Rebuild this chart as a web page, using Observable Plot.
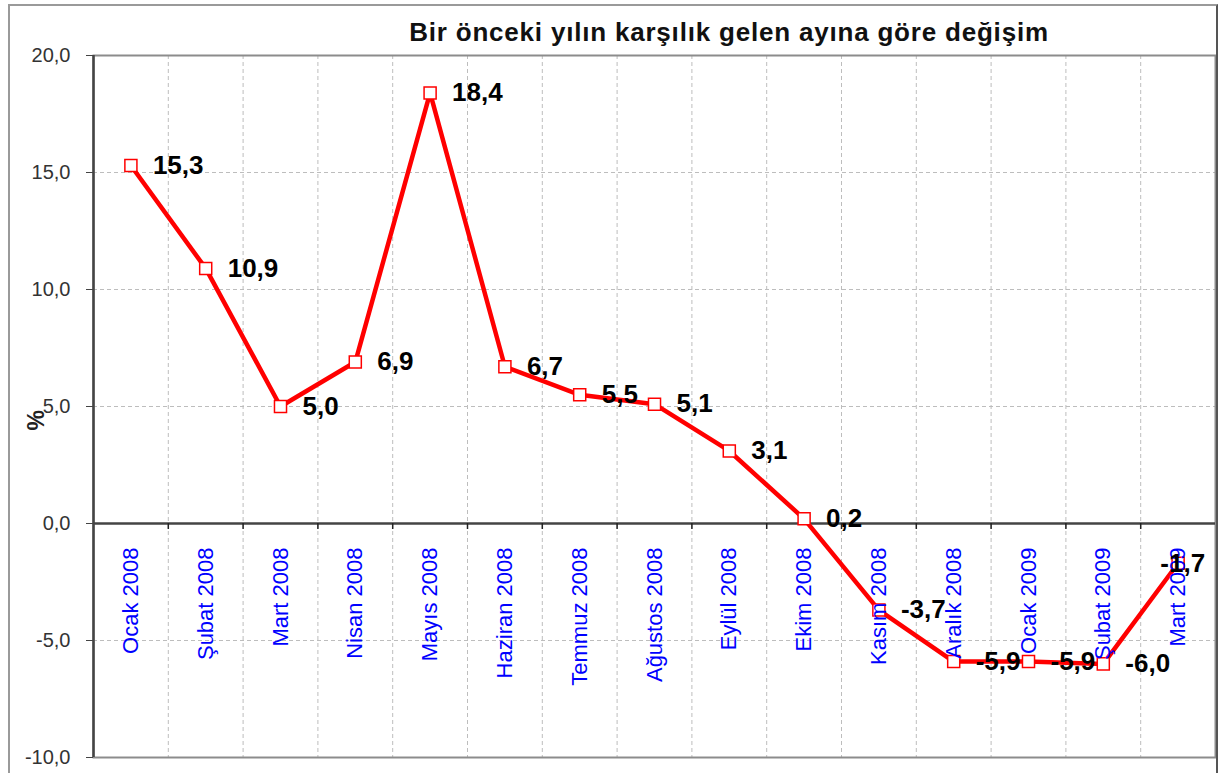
<!DOCTYPE html>
<html>
<head>
<meta charset="utf-8">
<script src="https://cdn.jsdelivr.net/npm/d3@7"></script>
<script src="https://cdn.jsdelivr.net/npm/@observablehq/plot@0.6"></script>
<style>
  html, body { margin: 0; padding: 0; background: #ffffff; }
  #wrap { position: relative; width: 1218px; height: 773px; overflow: hidden; font-family: "Liberation Sans", Arial, sans-serif; }
  #frame { position: absolute; left: 8px; top: 4px; width: 1206px; height: 800px; border: 2px solid #9a9a9a; border-right-color: #555; box-sizing: content-box; pointer-events: none; }
  #title { position: absolute; left: 229px; width: 1000px; top: 17px; text-align: center; font-size: 26px; letter-spacing: 0.8px; font-weight: bold; color: #111; line-height: 30px; }
  #chart { position: absolute; left: 0; top: 0; }
</style>
</head>
<body>
<div id="wrap">
  <div id="chart"></div>
  <div id="frame"></div>
  <div id="title">Bir önceki yılın karşılık gelen ayına göre değişim</div>
</div>
<script>
const months = ["Ocak 2008","Şubat 2008","Mart 2008","Nisan 2008","Mayıs 2008","Haziran 2008","Temmuz 2008","Ağustos 2008","Eylül 2008","Ekim 2008","Kasım 2008","Aralık 2008","Ocak 2009","Şubat 2009","Mart 2009"];
const values = [15.3, 10.9, 5.0, 6.9, 18.4, 6.7, 5.5, 5.1, 3.1, 0.2, -3.7, -5.9, -5.9, -6.0, -1.7];
const yTicks = [-10, -5, 0, 5, 10, 15, 20];
const yLabel = "%";

const data = months.map((m, i) => ({month: m, value: values[i]}));
const fmt = v => v.toFixed(1).replace(".", ",");

const W = 1218, H = 773;
const mL = 93, mR = 3, mT = 55, mB = 16;
const step = (W - mL - mR) / months.length;
const last = months[months.length - 1];

const plot = Plot.plot({
  width: W,
  height: H,
  marginLeft: mL,
  marginRight: mR,
  marginTop: mT,
  marginBottom: mB,
  style: {fontFamily: "'Liberation Sans', Arial, sans-serif", background: "transparent", overflow: "visible"},
  x: {type: "point", domain: months, padding: 0.5, round: false, axis: null},
  y: {domain: [-10, 20], ticks: yTicks, label: null},
  marks: [
    Plot.ruleY(yTicks.filter(t => t !== 0 && t !== 20), {stroke: "#bdbdbd", strokeWidth: 1, strokeDasharray: "4,3"}),
    Plot.ruleX(months.slice(1), {dx: -step / 2, stroke: "#bdbdbd", strokeWidth: 1, strokeDasharray: "4,3"}),
    Plot.frame({stroke: "#8c8c8c", strokeWidth: 2}),
    Plot.ruleY([0], {stroke: "#444", strokeWidth: 2.5}),
    Plot.ruleX([months[0]], {dx: -step / 2, stroke: "#444", strokeWidth: 2.5}),
    Plot.ruleX(months.slice(1), {dx: -step / 2, y1: 0, y2: 0, insetBottom: -6, stroke: "#222", strokeWidth: 1.5}),
    Plot.axisY({ticks: yTicks, tickFormat: fmt, tickSize: 7, tickPadding: 16, fontSize: 20, stroke: "#444", fill: "#333", label: null}),
    Plot.text([yLabel], {frameAnchor: "left", dx: -57, dy: 24, rotate: -90, fontSize: 23, fontWeight: "bold", fill: "#222"}),
    Plot.line(data, {x: "month", y: "value", stroke: "#ff0000", strokeWidth: 4.5}),
    Plot.dot(data, {x: "month", y: "value", symbol: "square", r: 6.8, fill: "white", stroke: "#ff0000", strokeWidth: 1.5}),
    Plot.text(months, {x: d => d, y: () => 0, rotate: -90, textAnchor: "end", dy: 24, fill: "#0000ff", fontSize: 22}),
    Plot.text(data.filter(d => d.month !== last), {x: "month", y: "value", text: d => fmt(d.value), textAnchor: "start", dx: 22, fontSize: 26, fontWeight: "bold", fill: "#000"}),
    Plot.text(data.filter(d => d.month === last), {x: "month", y: "value", text: d => fmt(d.value), textAnchor: "end", dx: 27, fontSize: 26, fontWeight: "bold", fill: "#000"})
  ]
});
document.getElementById("chart").appendChild(plot);
</script>
</body>
</html>
